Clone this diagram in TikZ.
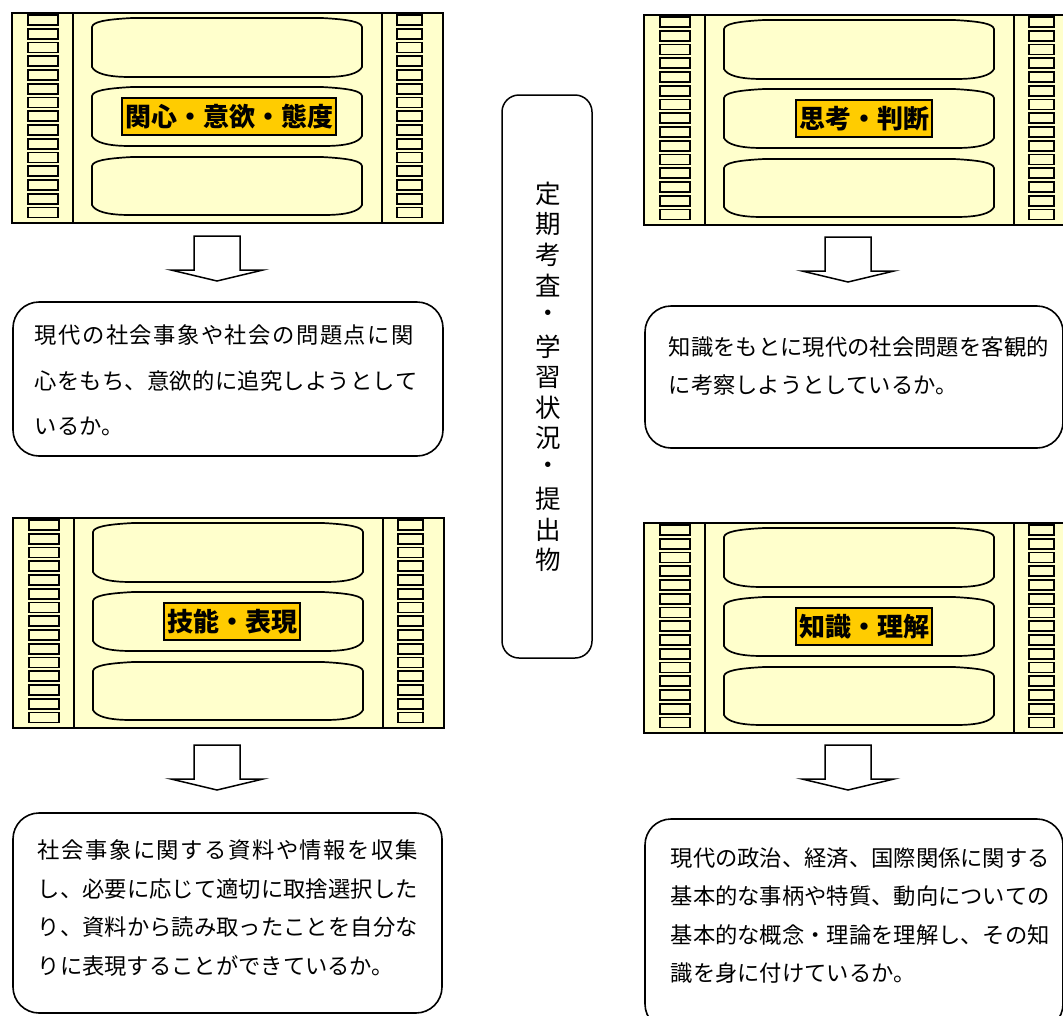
\documentclass[tikz,border=0pt]{standalone}
\usepackage{fontspec}
\setmainfont{Noto Sans CJK JP}
\definecolor{film}{HTML}{FFFFCC}
\definecolor{lblcol}{HTML}{FFCC00}
\newcommand\spreadline[2]{\makebox[#1pt][s]{\spreadfirst#2\relax}}
\def\spreadfirst#1{#1\spreadaux}
\def\spreadaux#1{\ifx#1\relax\else\hfil#1\expandafter\spreadaux\fi}
\newcommand\filmframe[2]{%
  \draw[frm] (80,#1+9) .. controls (81,#1+4) and (92,#1+1.5) .. (120,#1) -- (310,#1)
    .. controls (338,#1+1.5) and (349,#1+4) .. (350,#1+9) -- (350,#2-10)
    .. controls (347,#2-4) and (336,#2) .. (312,#2) -- (118,#2)
    .. controls (94,#2) and (83,#2-4) .. (80,#2-10) -- cycle;}
\newcommand\filmpanel[5]{%
  \begin{scope}[shift={(#2,#3)}]
    \draw[panel] (0,0) rectangle (431,210);
    \draw[divider] (61,0) -- (61,210) (370,0) -- (370,210);
    \foreach \i in {0,...,14}{
      \draw[hole] (16,{2+\i*13.75}) rectangle (46,{12+\i*13.75});
      \draw[hole] (385,{2+\i*13.75}) rectangle (410,{12+\i*13.75});
    }
    \filmframe{5}{64}\filmframe{74}{133}\filmframe{144}{202}
    \node[lblbox] (#1) at (#5,103.5) {#4};
  \end{scope}}
\newcommand\blockarrow[3]{% name, center x, top y
  \coordinate (#1) at (#2,#3);
  \draw[arr] ([xshift=-23]#1) -- ([xshift=23]#1) -- ([xshift=23,yshift=-34]#1)
    -- ([xshift=46,yshift=-34]#1) -- ([yshift=-45]#1) -- ([xshift=-46,yshift=-34]#1)
    -- ([xshift=-23,yshift=-34]#1) -- cycle;}
\begin{document}
\begin{tikzpicture}[x=1pt,y=-1pt,
  panel/.style={draw=black, line width=2, fill=film},
  divider/.style={draw=black, line width=1.8},
  hole/.style={draw=black, line width=1.7, fill=film},
  frm/.style={draw=black, line width=1.7, fill=film},
  lblbox/.style={draw=black, line width=1.4, fill=lblcol, inner xsep=3, inner ysep=0,
    minimum height=37, font=\bfseries\fontsize{26}{26}\selectfont},
  tbox/.style={draw=black, line width=1.6, rounded corners=26, fill=white},
  vbox/.style={draw=black, line width=1.5, rounded corners=17, fill=white},
  arr/.style={draw=black, line width=1.5, fill=white},
  txt/.style={inner sep=0, anchor=base west, font=\fontsize{22.3}{22.3}\selectfont},
  vtxt/.style={inner sep=0, font=\fontsize{25.5}{25.5}\selectfont},
]
\useasboundingbox (0,0) rectangle (1063,1015);
\fill[white] (0,0) rectangle (1063,1015);
\clip (0,0) rectangle (1063,1015);

% film panels
\filmpanel{kanshin}{12}{13}{関心・意欲・態度}{217}
\filmpanel{shikou}{644}{15}{思考・判断}{220}
\filmpanel{ginou}{13}{518}{技能・表現}{219}
\filmpanel{chishiki}{644}{523}{知識・理解}{220}

% block arrows
\blockarrow{a1}{217}{236}
\blockarrow{a2}{848}{237}
\blockarrow{a3}{217}{745}
\blockarrow{a4}{848}{745}

% text boxes
\node[tbox, minimum width=430, minimum height=154] (tb1) at (228,379) {};
\node[txt] (tb1l1) at (34.5,343.5) {\spreadline{379}{現代の社会事象や社会の問題点に関}};
\node[txt] (tb1l2) at (34.5,389) {\spreadline{383}{心をもち、意欲的に追究しようとして}};
\node[txt] (tb1l3) at (34.5,434.5) {いるか。};

\node[tbox, minimum width=418, minimum height=142] (tb2) at (854,377) {};
\node[txt] (tb2l1) at (668.5,355.5) {\spreadline{380}{知識をもとに現代の社会問題を客観的}};
\node[txt] (tb2l2) at (668.5,393.5) {に考察しようとしているか。};

\node[tbox, minimum width=429, minimum height=200] (tb3) at (227.5,913) {};
\node[txt] (tb3l1) at (37.5,858.5) {\spreadline{380}{社会事象に関する資料や情報を収集}};
\node[txt] (tb3l2) at (37.5,897) {\spreadline{380}{し、必要に応じて適切に取捨選択した}};
\node[txt] (tb3l3) at (37.5,935.5) {\spreadline{380}{り、資料から読み取ったことを自分な}};
\node[txt] (tb3l4) at (37.5,974) {りに表現することができているか。};

\node[tbox, minimum width=418, minimum height=211] (tb4) at (854,924.5) {};
\node[txt] (tb4l1) at (670.5,866) {\spreadline{377}{現代の政治、経済、国際関係に関する}};
\node[txt] (tb4l2) at (670.5,904.5) {\spreadline{377}{基本的な事柄や特質、動向についての}};
\node[txt] (tb4l3) at (670.5,943) {\spreadline{377}{基本的な概念・理論を理解し、その知}};
\node[txt] (tb4l4) at (670.5,981.5) {識を身に付けているか。};

% vertical box
\node[vbox, minimum width=90, minimum height=563] (vb) at (547,376.5) {};
\foreach \c [count=\i] in {定,期,考,査,・,学,習,状,況,・,提,出,物}{
  \node[vtxt] (v\i) at (548,{194+(\i-1)*30.5}) {\c};
}
\end{tikzpicture}
\end{document}
